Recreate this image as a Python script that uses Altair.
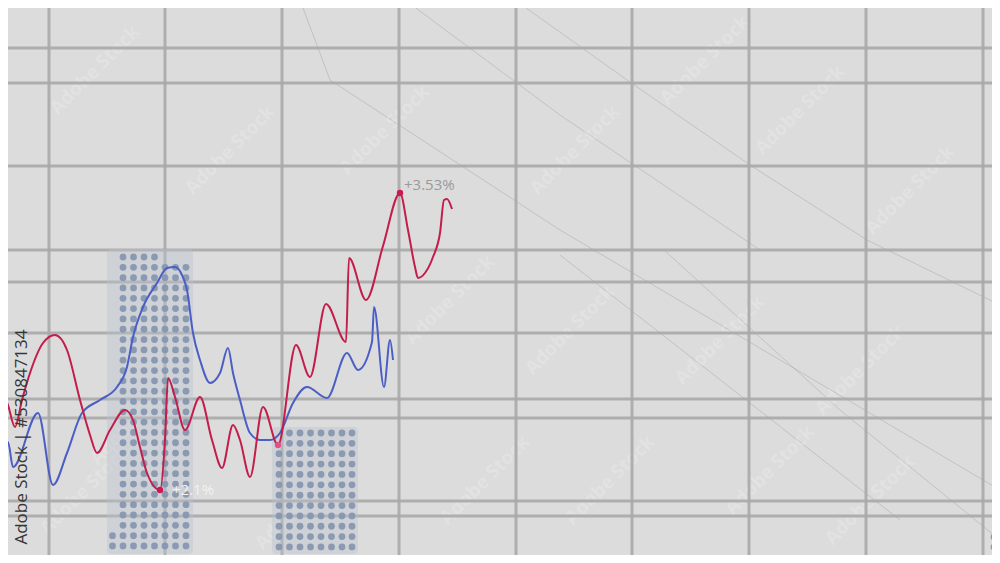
import altair as alt
import pandas as pd

# ---- data (reference units: horizontal step, level) ----
grid_x = [49, 165, 282, 399, 516, 632, 749, 866, 983]
grid_y = [2, 48, 83, 166, 250, 282, 333, 399, 418, 501, 516]

red_x = [0, 8, 15, 22, 30, 43, 55, 67, 80, 90, 97, 110, 125, 133, 140, 147, 160, 165, 168, 175,
         185, 200, 212, 222, 233, 240, 250, 263, 278, 296, 310, 326, 346, 349, 366, 383, 400,
         408, 415, 418, 425, 433, 440, 444, 447, 452]
red_y = [383, 405, 427, 400, 373, 343, 335, 350, 400, 435, 453, 430, 410, 420, 447, 473, 490, 440, 378, 397,
         430, 397, 440, 468, 425, 440, 477, 407, 445, 345, 377, 304, 342, 258, 300, 246, 193,
         230, 267, 278, 273, 257, 233, 200, 199, 209]

blue_x = [0, 8, 13, 38, 53, 67, 82, 100, 117, 127, 133, 143, 157, 167, 175, 182, 187, 193, 200,
          210, 220, 228, 233, 240, 250, 260, 270, 280, 293, 307, 327, 347, 358, 372, 374, 384, 390, 393]
blue_y = [453, 442, 467, 413, 485, 453, 413, 400, 387, 367, 337, 307, 283, 268, 267, 275, 290, 333, 360,
          383, 373, 348, 373, 400, 433, 440, 440, 433, 403, 387, 398, 353, 370, 342, 307, 387, 340, 360]

marker_x = [160, 278, 400]
marker_y = [490, 445, 193]
marker_c = ["#d0154f", "#e0508a", "#d0154f"]

label_text = ["+3.53%", "+2.1%"]
label_x = [404, 172]
label_y = [185, 490]
label_c = ["#9a9a9a", "#f2f2f2"]

# dot-matrix blocks: column positions and row positions
bar1_cols = [123, 133.5, 144, 154.5, 165, 175.5, 186]
bar1_rows = [257 + 10.32 * j for j in range(29)]
bar2_cols = [279, 289.5, 300, 310.5, 321, 331.5, 342, 352]
bar2_rows = [433 + 10.36 * j for j in range(12)]

haze_x = [107, 272]
haze_x2 = [193, 358]
haze_y = [249, 427]
haze_y2 = [554, 554]

diag_id = [0, 0, 0, 0, 1, 1, 1, 1, 1, 2, 2, 2, 3, 3, 3, 4, 4]
diag_x = [300, 330, 560, 1000, 515, 627, 750, 867, 1000, 405, 560, 760, 664, 840, 1000, 560, 900]
diag_y = [0, 80, 230, 490, 0, 80, 165, 240, 305, 0, 115, 250, 250, 410, 540, 255, 520]

wm_x = [95, 230, 385, 575, 705, 800, 910, 450, 570, 720, 860, 485, 610, 770, 870, 135, 85, 300]
wm_y = [70, 150, 130, 150, 60, 110, 190, 300, 330, 340, 370, 480, 480, 470, 500, 420, 490, 505]

# ---- tables ----
dots = []
for j, yv in enumerate(bar1_rows):
    cols = bar1_cols[:4] if j == 0 else bar1_cols
    if j >= 27:
        cols = [112.5] + cols
    dots += [{"x": xv, "y": yv} for xv in cols]
for j, yv in enumerate(bar2_rows):
    cols = bar2_cols[1:] if j < 2 else bar2_cols
    dots += [{"x": xv, "y": yv} for xv in cols]
dots += [{"x": 994, "y": 537}, {"x": 994, "y": 547}]
dots_df = pd.DataFrame(dots)

red_df = pd.DataFrame({"x": red_x, "y": red_y})
blue_df = pd.DataFrame({"x": blue_x, "y": blue_y})
mk_df = pd.DataFrame({"x": marker_x, "y": marker_y, "c": marker_c})
lab_df = pd.DataFrame({"x": label_x, "y": label_y, "t": label_text, "c": label_c})
haze_df = pd.DataFrame({"x": haze_x, "x2": haze_x2, "y": haze_y, "y2": haze_y2})
diag_df = pd.DataFrame({"id": diag_id, "x": diag_x, "y": diag_y})
gx_df = pd.DataFrame({"x": grid_x})
gy_df = pd.DataFrame({"y": grid_y})
wm_df = pd.DataFrame({"x": wm_x, "y": wm_y})
id_df = pd.DataFrame({"x": [22], "y": [437], "t": ["Adobe Stock | #530847134"]})

xs = alt.Scale(domain=[8, 992], nice=False, zero=False)
ys = alt.Scale(domain=[8, 555], nice=False, zero=False, reverse=True)
X = lambda f="x": alt.X(f"{f}:Q", scale=xs, axis=None)
Y = lambda f="y": alt.Y(f"{f}:Q", scale=ys, axis=None)

diag = alt.Chart(diag_df).mark_line(color="#9a9a9a", strokeWidth=1, opacity=0.4, clip=True).encode(
    x=X(), y=Y(), detail="id:N", order="x:Q")
wm = alt.Chart(wm_df).mark_text(text="Adobe Stock", angle=315, fontSize=19, font="Open Sans",
                                fontWeight="bold", color="#ffffff", opacity=0.17, clip=True).encode(x=X(), y=Y())
vgrid = alt.Chart(gx_df).mark_rule(color="#a8a8a8", strokeWidth=3, opacity=0.9, clip=True).encode(x=X())
hgrid = alt.Chart(gy_df).mark_rule(color="#a8a8a8", strokeWidth=3, opacity=0.9, clip=True).encode(y=Y())
haze = alt.Chart(haze_df).mark_rect(color="#b9c3ce", opacity=0.4, cornerRadius=4).encode(
    x=X(), x2="x2:Q", y=Y(), y2="y2:Q")
dot = alt.Chart(dots_df).mark_circle(size=46, color="#8797b0", opacity=0.95, clip=True).encode(x=X(), y=Y())
red = alt.Chart(red_df).mark_line(color="#c21d4b", strokeWidth=2, interpolate="monotone", clip=True).encode(
    x=X(), y=Y(), order="x:Q")
blue = alt.Chart(blue_df).mark_line(color="#4a5ec6", strokeWidth=2, interpolate="monotone", clip=True).encode(
    x=X(), y=Y(), order="x:Q")
mk = alt.Chart(mk_df).mark_circle(size=40, opacity=1).encode(x=X(), y=Y(), color=alt.Color("c:N", scale=None))
lab = alt.Chart(lab_df).mark_text(align="left", baseline="middle", fontSize=15, font="Open Sans").encode(
    x=X(), y=Y(), text="t:N", color=alt.Color("c:N", scale=None))
ident = alt.Chart(id_df).mark_text(angle=270, fontSize=17, font="Open Sans", color="#353535",
                                   baseline="middle", align="center").encode(x=X(), y=Y(), text="t:N")

chart = alt.layer(diag, wm, vgrid, hgrid, haze, dot, blue, red, mk, lab, ident).properties(
    width=984, height=547, padding=0, background="#dcdcdc",
    autosize=alt.AutoSizeParams(type="none"),
).configure_view(stroke=None, fill="#dcdcdc")

chart.save("out.html", embed_options={"renderer": "svg", "actions": False})
